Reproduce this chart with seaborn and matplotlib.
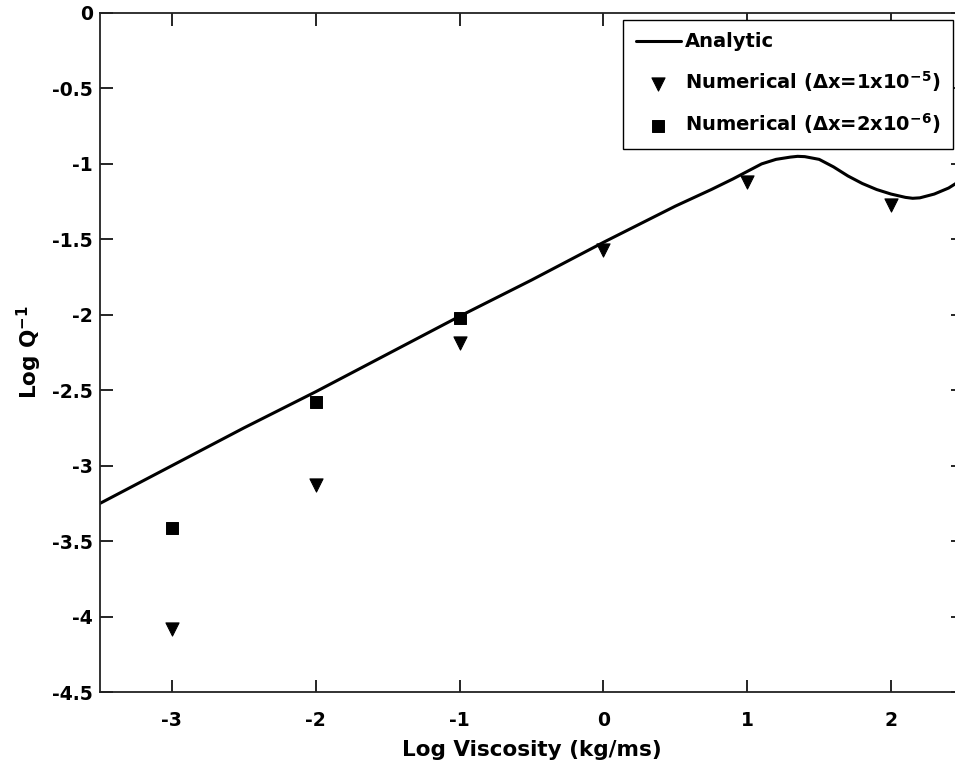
import matplotlib
matplotlib.use("Agg")
import matplotlib.pyplot as plt
import seaborn as sns

# Analytic curve
curve_x = [-3.5, -3.0, -2.5, -2.0, -1.5, -1.0, -0.5, 0.0, 0.25, 0.5, 0.75, 0.9,
           1.0, 1.1, 1.2, 1.3, 1.35, 1.4, 1.5, 1.6, 1.7, 1.8, 1.9, 2.0, 2.1,
           2.15, 2.2, 2.3, 2.4, 2.5]
curve_y = [-3.25, -3.00, -2.75, -2.51, -2.26, -2.01, -1.77, -1.52, -1.40, -1.28,
           -1.17, -1.10, -1.05, -1.00, -0.97, -0.955, -0.95, -0.952, -0.97, -1.02,
           -1.08, -1.13, -1.17, -1.20, -1.222, -1.228, -1.225, -1.20, -1.16, -1.10]

# Numerical results
tri_x = [-3, -2, -1, 0, 1, 2]
tri_y = [-4.08, -3.13, -2.19, -1.57, -1.12, -1.27]
sq_x = [-3, -2, -1]
sq_y = [-3.41, -2.58, -2.02]

sns.set_style("ticks")
plt.rcParams["font.family"] = ["DejaVu Sans"]
plt.rcParams["font.weight"] = "bold"
plt.rcParams["text.color"] = "black"
plt.rcParams["axes.labelcolor"] = "black"
plt.rcParams["xtick.color"] = "black"
plt.rcParams["ytick.color"] = "black"
plt.rcParams["axes.unicode_minus"] = False
plt.rcParams["mathtext.fontset"] = "dejavusans"
plt.rcParams["mathtext.default"] = "bf"

fig = plt.figure(figsize=(9.55, 7.67), dpi=100)
ax = fig.add_axes([100 / 955, 1 - 692 / 767, 863 / 955, 679 / 767])

sns.lineplot(x=curve_x, y=curve_y, ax=ax, color="black", linewidth=2.2,
             label="Analytic")
sns.scatterplot(x=tri_x, y=tri_y, ax=ax, marker="v", color="black", s=90,
                edgecolor="black", label=r"Numerical ($\mathregular{\Delta}$x=1x10$^{-5}$)")
sns.scatterplot(x=sq_x, y=sq_y, ax=ax, marker="s", color="black", s=75,
                edgecolor="black", label=r"Numerical ($\mathregular{\Delta}$x=2x10$^{-6}$)")

ax.set_xlim(-3.5, 2.5)
ax.set_ylim(-4.5, 0)
ax.set_xticks([-3, -2, -1, 0, 1, 2])
ax.set_yticks([-4.5, -4, -3.5, -3, -2.5, -2, -1.5, -1, -0.5, 0])
ax.set_yticklabels(["-4.5", "-4", "-3.5", "-3", "-2.5", "-2", "-1.5", "-1", "-0.5", "0"])
ax.tick_params(direction="in", length=9, width=1.2, labelsize=13.5,
               top=True, right=True)
ax.tick_params(axis="x", pad=14)
ax.tick_params(axis="y", pad=5)
for lab in ax.get_xticklabels() + ax.get_yticklabels():
    lab.set_fontweight("bold")
for sp in ax.spines.values():
    sp.set_linewidth(1.3)
    sp.set_color("#222222")

ax.set_xlabel("Log Viscosity (kg/ms)", fontsize=15.5, fontweight="bold", labelpad=7)
ax.set_ylabel("Log Q$^{-1}$", fontsize=15.5, fontweight="bold", labelpad=6)

leg = ax.legend(loc="upper right", bbox_to_anchor=(0.988, 0.99), borderaxespad=0,
                fontsize=14, fancybox=False, framealpha=1, edgecolor="black",
                handlelength=2.3, handletextpad=0.2, borderpad=0.65,
                labelspacing=0.9)
leg.get_frame().set_linewidth(1.0)

fig.savefig("out.png", dpi=100)
